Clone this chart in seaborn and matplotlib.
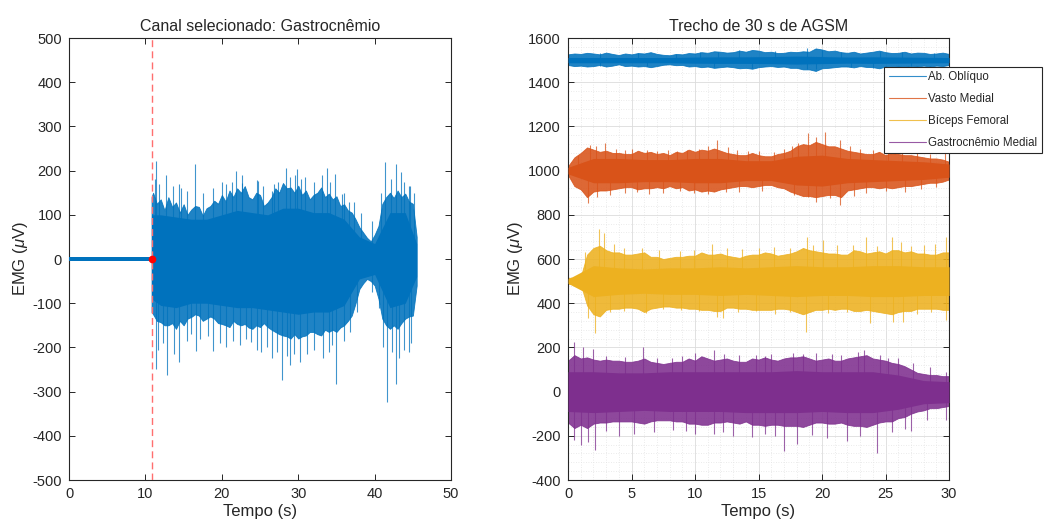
import numpy as np
import pandas as pd
import matplotlib
matplotlib.use("Agg")
import matplotlib.pyplot as plt
import seaborn as sns
from matplotlib.ticker import MultipleLocator

sns.set_theme(style="white")
plt.rcParams['font.family'] = ['Liberation Sans', 'DejaVu Sans']
plt.rcParams['mathtext.fontset'] = 'custom'
plt.rcParams['mathtext.it'] = 'Liberation Sans:italic'
plt.rcParams['axes.unicode_minus'] = False

# ---- left panel: selected channel (envelopes, uV) ----
onset_t = 10.8
rest_t = [0, 10.8]
rest_amp = [4, 4]

# outer (fuzzy) envelope every 0.5 s
gas_t = [10.8] + [11 + 0.5 * i for i in range(70)]
gas_top = [140, 150, 125, 135, 110, 140, 118, 128, 105, 124, 100, 112, 120, 118, 98, 115, 120,
           132, 125, 145, 130, 155, 140, 160, 150, 165, 140, 135, 150, 145, 120, 128, 140, 160,
           150, 172, 160, 162, 150, 166, 145, 155, 135, 145, 150, 162, 140, 148, 135, 142, 120,
           124, 110, 105, 90, 72, 60, 48, 40, 55, 75, 125, 140, 150, 138, 155, 140, 148, 130,
           125, 50]
gas_bot = [-120, -125, -140, -143, -150, -150, -145, -158, -140, -150, -135, -131, -125, -128,
           -140, -135, -130, -135, -145, -147, -150, -154, -140, -147, -150, -147, -155, -158,
           -150, -154, -145, -154, -160, -165, -170, -173, -175, -180, -170, -180, -175, -173,
           -165, -165, -170, -173, -160, -165, -160, -165, -155, -150, -140, -128, -100, -68,
           -55, -45, -50, -60, -90, -135, -150, -158, -150, -158, -145, -135, -130, -128, -60]
# solid core every 2 s
core_t = [10.8, 12, 14, 16, 18, 20, 22, 24, 26, 28, 30, 32, 34, 36, 38, 40, 42, 44, 45.5]
core_top = [100, 100, 95, 90, 90, 100, 110, 105, 100, 115, 115, 105, 105, 90, 50, 35, 105, 105, 35]
core_bot = [-90, -105, -110, -100, -100, -105, -110, -110, -115, -120, -125, -120, -120, -105,
            -45, -35, -110, -100, -40]
spk_up_t = [11.4, 12.7, 14.4, 16.5, 21.8, 22.7, 24.7, 26.5, 28.4, 29.9, 30.9, 33.8, 34.8,
            35.7, 36.7, 41.4, 42.8, 43.4, 44.6,
            11.2, 11.8, 13.6, 14.7, 15.4, 17.5, 18.9, 20.0, 20.6, 21.3, 22.6, 24.6, 25.4, 26.8,
            27.4, 28.9, 29.6, 30.3, 32.0, 33.1, 34.2, 36.0, 37.3, 38.2, 39.7, 40.8, 42.1, 43.9,
            44.5, 45.2]
spk_up_v = [222, 191, 170, 216, 198, 173, 177, 155, 207, 204, 185, 207, 192, 147, 128, 219,
            215, 196, 166,
            180, 170, 165, 160, 155, 150, 160, 175, 170, 175, 190, 178, 165, 170, 175, 185, 190,
            180, 175, 190, 175, 150, 130, 105, 85, 150, 180, 175, 165, 150]
spk_dn_t = [11.4, 12.8, 14.4, 16.6, 18.9, 23.8, 25.1, 26.5, 27.9, 28.9, 30.2, 34.0, 35.0,
            41.1, 41.6, 42.8, 44.5,
            11.6, 12.3, 13.8, 15.4, 16.0, 17.1, 18.2, 19.7, 20.6, 21.5, 22.4, 23.2, 24.6, 25.9,
            27.2, 28.5, 29.4, 31.1, 32.0, 33.3, 34.4, 36.0, 36.8, 37.7, 39.7, 40.6, 42.3, 43.2,
            43.9, 44.7]
spk_dn_v = [-248, -263, -233, -207, -207, -188, -210, -225, -274, -240, -233, -210, -282,
            -199, -323, -282, -210,
            -205, -190, -215, -185, -170, -180, -175, -190, -200, -185, -195, -180, -205, -200,
            -210, -220, -215, -215, -205, -225, -195, -185, -165, -120, -75, -110, -210, -225,
            -205, -190]

# ---- right panel: 30 s excerpt, 4 channels with offsets ----
muscles = ['Ab. Oblíquo', 'Vasto Medial', 'Bíceps Femoral', 'Gastrocnêmio Medial']
offsets = [1500, 1000, 500, 0]
seg_t = [0.5 * i for i in range(61)]
seg_core_t = list(range(0, 31, 2))

obl_top = [26, 30, 28, 33, 30, 26, 34, 28, 23, 30, 26, 32, 30, 36, 28, 24, 22, 28, 26, 32, 30,
           36, 33, 40, 38, 34, 36, 43, 38, 46, 43, 36, 38, 32, 33, 38, 36, 40, 38, 53, 48, 40,
           43, 36, 33, 38, 30, 34, 38, 43, 36, 32, 33, 38, 30, 34, 33, 28, 30, 34, 28]
obl_bot = [-22, -27, -25, -29, -27, -22, -29, -25, -19, -27, -25, -29, -27, -32, -27, -21, -19,
           -23, -22, -29, -27, -32, -29, -35, -32, -29, -32, -37, -35, -39, -32, -29, -27, -31,
           -29, -35, -35, -42, -42, -49, -37, -35, -32, -29, -29, -33, -27, -31, -32, -37, -29,
           -27, -29, -32, -27, -29, -25, -29, -25, -27, -22]
vas_top = [20, 60, 80, 105, 95, 85, 90, 80, 80, 75, 75, 90, 80, 85, 75, 80, 70, 85, 80, 95, 85,
           95, 90, 100, 90, 80, 75, 70, 70, 80, 70, 65, 65, 75, 80, 90, 110, 120, 115, 130, 120,
           110, 110, 100, 90, 85, 80, 75, 75, 85, 70, 80, 75, 70, 70, 65, 60, 55, 55, 50, 40]
vas_bot = [-20, -70, -85, -120, -95, -90, -90, -85, -80, -75, -75, -85, -80, -80, -75, -80,
           -70, -80, -75, -90, -85, -95, -90, -95, -85, -80, -75, -70, -70, -75, -70, -65, -65,
           -75, -80, -95, -105, -115, -115, -120, -115, -110, -110, -120, -90, -85, -80, -75,
           -75, -80, -75, -80, -75, -70, -70, -65, -60, -55, -55, -50, -40]
bic_top = [15, 15, 20, 120, 150, 160, 140, 130, 130, 120, 120, 125, 130, 110, 110, 100, 105,
           110, 110, 115, 115, 130, 120, 120, 125, 115, 110, 105, 115, 120, 120, 130, 125, 115,
           120, 125, 135, 150, 140, 135, 130, 125, 125, 120, 120, 140, 135, 125, 130, 135, 125,
           140, 140, 130, 135, 125, 125, 120, 120, 130, 130]
bic_bot = [-12, -12, -15, -110, -150, -160, -130, -125, -125, -120, -120, -125, -140, -125,
           -120, -115, -115, -120, -120, -125, -125, -130, -130, -135, -135, -120, -120, -125,
           -125, -130, -130, -130, -130, -125, -125, -130, -140, -150, -140, -130, -130, -125,
           -130, -125, -125, -135, -135, -130, -135, -140, -145, -150, -140, -135, -135, -125,
           -125, -125, -125, -130, -130]
gas2_top = [140, 165, 150, 155, 145, 140, 145, 140, 140, 135, 135, 140, 150, 135, 130, 125,
            130, 135, 135, 150, 140, 160, 150, 140, 145, 150, 140, 135, 135, 150, 145, 155, 145,
            140, 150, 155, 155, 160, 150, 140, 145, 150, 140, 140, 150, 155, 160, 165, 150, 145,
            140, 130, 125, 115, 100, 85, 80, 75, 75, 70, 70]
gas2_bot = [-140, -165, -150, -165, -145, -140, -140, -135, -135, -135, -135, -140, -145, -135,
            -130, -130, -130, -135, -135, -145, -145, -150, -150, -140, -140, -135, -140, -145,
            -135, -150, -150, -155, -150, -150, -155, -155, -155, -160, -150, -140, -140, -145,
            -145, -140, -150, -155, -155, -160, -150, -140, -135, -135, -120, -115, -100, -90,
            -85, -75, -75, -70, -65]

obl_core_top = [12, 12, 12, 12, 12, 14, 15, 15, 16, 18, 16, 14, 15, 14, 13, 12]
obl_core_bot = [-12, -12, -12, -12, -12, -14, -15, -15, -16, -18, -16, -14, -15, -14, -13, -12]
vas_core_top = [15, 55, 55, 50, 50, 55, 55, 45, 45, 65, 70, 55, 50, 45, 40, 30]
vas_core_bot = [-15, -55, -55, -50, -50, -55, -55, -45, -45, -65, -70, -55, -50, -45, -40, -30]
bic_core_top = [10, 70, 60, 55, 60, 60, 65, 60, 65, 70, 65, 65, 70, 70, 65, 65]
bic_core_bot = [-10, -70, -60, -55, -60, -60, -65, -60, -65, -70, -65, -65, -70, -70, -65, -65]
gas2_core_top = [90, 90, 85, 85, 90, 90, 90, 90, 90, 95, 90, 90, 90, 75, 50, 45]
gas2_core_bot = [-90, -95, -90, -85, -90, -90, -90, -95, -95, -95, -90, -95, -95, -80, -55, -50]

obl_spk_t = [10.4, 13.5, 16.3, 18.8, 24.6, 2.5, 5.5, 8.5, 11.8, 20.0, 21.5, 26.3, 28.8,
             14.5, 18.8, 24.0, 2.5, 6.2, 11.5, 19.5, 22.3, 27.0]
obl_spk_v = [38, 45, 40, 53, 42, 32, 30, 28, 35, 45, 38, 36, 32,
             -35, -42, -35, -28, -28, -30, -38, -30, -28]
vas_spk_t = [1.7, 2.9, 5.0, 7.9, 11.7, 12.6, 17.6, 18.1, 18.9, 20.2, 21.4, 24.0, 29.7,
             0.8, 2.2, 3.8, 4.5, 6.2, 7.0, 8.6, 9.4, 10.3, 11.0, 13.3, 14.2, 15.0, 16.2, 17.0,
             19.5, 22.2, 23.0, 25.2, 26.3, 27.5, 28.5,
             1.6, 3.3, 6.4, 9.9, 12.4, 18.9, 20.6, 21.4, 26.5,
             2.3, 4.5, 5.4, 7.5, 8.8, 11.0, 13.5, 15.3, 17.8, 19.5, 22.5, 23.5, 25.0, 27.8, 29.0]
vas_spk_v = [116, 124, 100, 95, 139, 105, 110, 124, 169, 176, 139, 95, 80,
             70, 110, 100, 95, 95, 90, 90, 95, 100, 110, 95, 90, 90, 85, 100,
             150, 110, 100, 90, 95, 85, 75,
             -148, -110, -105, -100, -95, -118, -125, -155, -95,
             -120, -100, -95, -100, -90, -105, -95, -90, -110, -140, -115, -100, -90, -85, -75]
bic_spk_t = [2.4, 2.8, 5.8, 11.3, 18.8, 20.1, 21.2, 23.5, 25.5, 27.0, 29.8,
             1.3, 3.6, 4.4, 7.2, 8.8, 9.9, 12.5, 13.7, 15.0, 16.2, 17.5, 19.3, 22.4, 24.3, 26.2,
             28.0, 28.9,
             1.6, 2.1, 6.1, 11.7, 12.2, 18.7, 23.8, 25.6, 26.4, 29.8,
             3.3, 4.4, 7.5, 8.9, 10.3, 13.4, 14.8, 16.3, 17.5, 20.5, 22.0, 27.5, 28.6]
bic_spk_v = [238, 216, 148, 170, 200, 185, 165, 200, 200, 160, 200,
             130, 170, 150, 140, 135, 140, 150, 145, 150, 155, 150, 165, 165, 160, 175, 165, 170,
             -169, -237, -146, -161, -169, -229, -191, -184, -184, -176,
             -140, -135, -125, -130, -135, -140, -135, -150, -140, -145, -140, -150, -140]
gas2_spk_t = [0.5, 1.2, 2.0, 5.9, 8.2, 10.0, 11.5, 13.5, 16.0, 17.7, 19.5, 20.8, 22.8, 23.3,
              24.6, 26.0, 29.8,
              3.0, 4.5, 7.0, 9.0, 12.3, 14.8, 15.5, 18.5, 21.5, 25.2, 27.2, 28.5,
              0.5, 1.0, 2.1, 4.0, 8.3, 10.0, 13.0, 14.5, 17.0, 18.0, 22.0, 24.3, 27.0, 29.8,
              1.6, 3.0, 5.2, 6.8, 9.3, 11.5, 12.2, 15.5, 16.3, 19.2, 20.4, 23.0, 25.5, 26.5,
              28.3]
gas2_spk_v = [226, 200, 195, 204, 150, 175, 190, 165, 170, 175, 175, 170, 178, 190, 165, 150,
              90,
              160, 155, 150, 160, 170, 165, 160, 170, 165, 150, 130, 110,
              -220, -240, -264, -200, -175, -190, -200, -205, -271, -235, -225, -280, -180,
              -130,
              -230, -180, -190, -185, -180, -190, -185, -190, -200, -195, -210, -200, -185,
              -170, -130]

colors = ['#0072BD', '#D95319', '#EDB120', '#7E2F8E']
tops = [obl_top, vas_top, bic_top, gas2_top]
bots = [obl_bot, vas_bot, bic_bot, gas2_bot]
core_tops = [obl_core_top, vas_core_top, bic_core_top, gas2_core_top]
core_bots = [obl_core_bot, vas_core_bot, bic_core_bot, gas2_core_bot]
spk_t = [obl_spk_t, vas_spk_t, bic_spk_t, gas2_spk_t]
spk_v = [obl_spk_v, vas_spk_v, bic_spk_v, gas2_spk_v]

fig = plt.figure(figsize=(10.49, 5.28), dpi=100)
ax1 = fig.add_axes([0.0658, 0.0909, 0.3642, 0.8371])
ax2 = fig.add_axes([0.5415, 0.0909, 0.3632, 0.8371])

txt = '#262626'
fuzz = 0.88


def style_axes(ax):
    for s in ax.spines.values():
        s.set_color(txt)
        s.set_linewidth(0.8)
    ax.tick_params(direction='in', length=4, width=0.7, colors=txt, labelsize=10.5,
                   top=True, right=True, bottom=True, left=True, pad=5)
    for lab in ax.get_xticklabels() + ax.get_yticklabels():
        lab.set_color(txt)


# left panel: spikes first, then the fuzzy band, then the solid core
blue = colors[0]
ax1.vlines(spk_up_t, 0, spk_up_v, color=blue, lw=0.8, alpha=0.75, zorder=1)
ax1.vlines(spk_dn_t, 0, spk_dn_v, color=blue, lw=0.8, alpha=0.75, zorder=1)
ax1.fill_between(rest_t, [-a for a in rest_amp], rest_amp, color=blue, lw=0, zorder=3)
ax1.fill_between(gas_t, gas_bot, gas_top, color=blue, alpha=fuzz, lw=0.6, edgecolor=blue,
                 zorder=2)
ax1.fill_between(core_t, core_bot, core_top, color=blue, lw=0, zorder=3)
ax1.axvline(onset_t, color='#FF6F6F', ls=(0, (5, 3)), lw=1, zorder=4)
ax1.plot([onset_t], [0], 'o', color='red', ms=4.5, zorder=5)
ax1.set_xlim(0, 50)
ax1.set_ylim(-500, 500)
ax1.xaxis.set_major_locator(MultipleLocator(10))
ax1.yaxis.set_major_locator(MultipleLocator(100))
ax1.set_title('Canal selecionado: Gastrocnêmio', fontsize=11.5, color=txt, pad=5)
ax1.set_xlabel('Tempo (s)', fontsize=12, color=txt, labelpad=2)
ax1.set_ylabel(r'EMG ($\mu$V)', fontsize=12, color=txt, labelpad=2)
style_axes(ax1)

# right panel
for name, off, c, tp, bt, ct, cb, st, sv in zip(muscles, offsets, colors, tops, bots,
                                                core_tops, core_bots, spk_t, spk_v):
    df = pd.DataFrame({'t': seg_t, 'top': np.add(tp, off), 'bot': np.add(bt, off)})
    core = pd.DataFrame({'t': seg_core_t, 'top': np.add(ct, off), 'bot': np.add(cb, off)})
    ax2.vlines(st, off, np.add(sv, off), color=c, lw=0.8, alpha=0.75, zorder=1)
    ax2.fill_between(df['t'], df['bot'], df['top'], color=c, alpha=fuzz, lw=0.6, edgecolor=c,
                     zorder=2)
    ax2.fill_between(core['t'], core['bot'], core['top'], color=c, lw=0, zorder=3)
    sns.lineplot(x=[np.nan], y=[np.nan], color=c, lw=0.8, alpha=0.8, label=name, ax=ax2)

ax2.set_xlim(0, 30)
ax2.set_ylim(-400, 1600)
ax2.xaxis.set_major_locator(MultipleLocator(5))
ax2.xaxis.set_minor_locator(MultipleLocator(1))
ax2.yaxis.set_major_locator(MultipleLocator(200))
ax2.yaxis.set_minor_locator(MultipleLocator(40))
ax2.grid(True, which='major', color='#DCDCDC', lw=0.6)
ax2.grid(True, which='minor', color='#E4E4E4', lw=0.6, ls=(0, (1, 2)))
ax2.tick_params(which='minor', length=0)
ax2.set_axisbelow(True)
ax2.set_title('Trecho de 30 s de AGSM', fontsize=11.5, color=txt, pad=5)
ax2.set_xlabel('Tempo (s)', fontsize=12, color=txt, labelpad=2)
ax2.set_ylabel(r'EMG ($\mu$V)', fontsize=12, color=txt, labelpad=2)
style_axes(ax2)

leg = ax2.legend(loc='upper left', bbox_to_anchor=(0.83, 0.935), fontsize=8.3,
                 frameon=True, fancybox=False, borderpad=0.4, labelspacing=0.85,
                 handlelength=3.2, handletextpad=0.2, borderaxespad=0)
leg.get_frame().set_edgecolor('#262626')
leg.get_frame().set_linewidth(0.8)
leg.get_frame().set_alpha(1)
leg.set_zorder(10)

fig.savefig('out.png', dpi=100)
